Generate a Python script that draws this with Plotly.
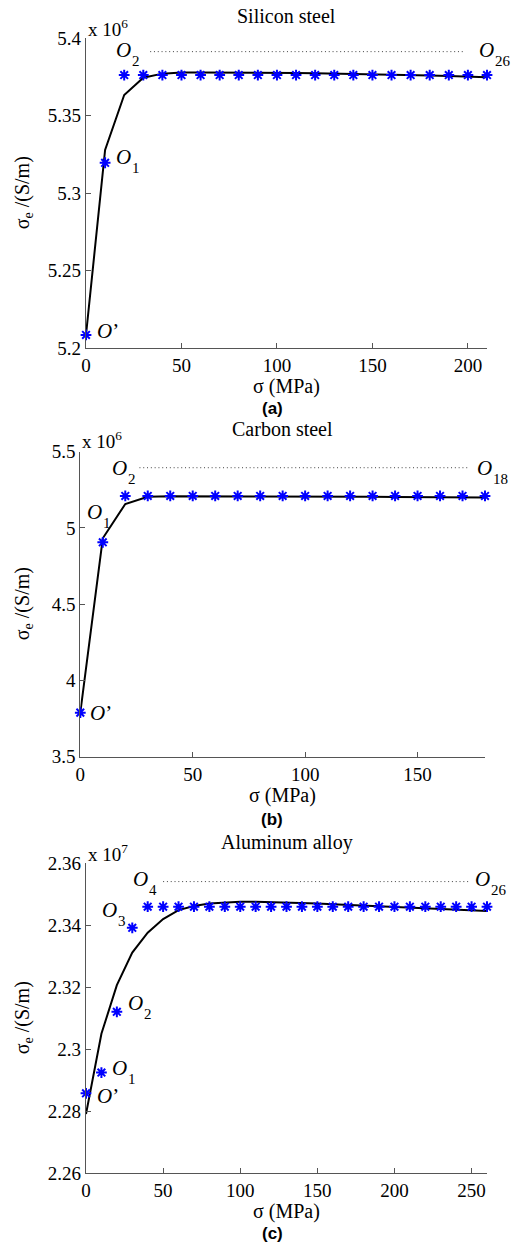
import plotly.graph_objects as go

W, H = 513, 1244

# ---------------- data (y in units of the axis multiplier) ----------------
# (a) Silicon steel, x 10^6 S/m
a_x = [0, 10, 20, 30, 40, 50, 60, 70, 80, 90, 100, 110, 120, 130, 140, 150, 160, 170, 180, 190, 200, 210]
a_fit = [5.2086, 5.3280, 5.3634, 5.3746, 5.3772, 5.3779, 5.3780, 5.3780, 5.3779, 5.3778, 5.3777,
         5.3776, 5.3775, 5.3773, 5.3771, 5.3769, 5.3766, 5.3763, 5.3760, 5.3756, 5.3752, 5.3749]
a_meas = [5.2086, 5.3197] + [5.3763] * 20
a_dot_x = [33.6, 198.0]
a_dot_y = [5.3914, 5.3914]

# (b) Carbon steel, x 10^6 S/m
b_x = [0, 10, 20, 30, 40, 50, 60, 70, 80, 90, 100, 110, 120, 130, 140, 150, 160, 170, 180]
b_fit = [3.789, 4.932, 5.157, 5.205, 5.208, 5.208, 5.208, 5.207, 5.207, 5.206, 5.206,
         5.205, 5.204, 5.204, 5.203, 5.202, 5.202, 5.201, 5.200]
b_meas = [3.789, 4.906] + [5.210] * 17
b_dot_x = [26.3, 172.8]
b_dot_y = [5.395, 5.395]

# (c) Aluminum alloy, x 10^7 S/m
c_x = [0, 10, 20, 30, 40, 50, 60, 70, 80, 90, 100, 110, 120, 130, 140, 150, 160, 170, 180,
       190, 200, 210, 220, 230, 240, 250, 260]
c_fit = [2.2791, 2.3050, 2.3207, 2.3312, 2.3376, 2.3420, 2.3449, 2.3462, 2.3470, 2.3474, 2.3476,
         2.3476, 2.3475, 2.3474, 2.3472, 2.3470, 2.3468, 2.3466, 2.3464, 2.3462, 2.3460,
         2.3458, 2.3455, 2.3453, 2.3451, 2.3448, 2.3446]
c_meas = [2.2858, 2.2925, 2.3121, 2.3392] + [2.3460] * 23
c_dot_x = [50.0, 248.0]
c_dot_y = [2.3541, 2.3541]

titles = ["Silicon steel", "Carbon steel", "Aluminum alloy"]
exponents = ["6", "6", "7"]
panel_tags = ["(a)", "(b)", "(c)"]
x_label = "σ (MPa)"
y_label = "σ<sub>e</sub> /(S/m)"

a_xticks = [0, 50, 100, 150, 200]
b_xticks = [0, 50, 100, 150]
c_xticks = [0, 50, 100, 150, 200, 250]
a_yticks = [5.2, 5.25, 5.3, 5.35, 5.4]
a_ytext = ["5.2", "5.25", "5.3", "5.35", "5.4"]
b_yticks = [3.5, 4.0, 4.5, 5.0, 5.5]
b_ytext = ["3.5", "4", "4.5", "5", "5.5"]
c_yticks = [2.26, 2.28, 2.30, 2.32, 2.34, 2.36]
c_ytext = ["2.26", "2.28", "2.3", "2.32", "2.34", "2.36"]

# point labels: (suffix, x, y, is_subscript) -- x,y = left edge / vertical centre of the "O"
a_labels = [("’", 5.8, 5.2114, False), ("1", 15.7, 5.3234, True), ("2", 15.7, 5.3925, True),
            ("26", 205.7, 5.3925, True)]
b_labels = [("’", 4.3, 3.789, False), ("1", 3.0, 5.107, True), ("2", 14.1, 5.395, True),
            ("18", 176.6, 5.395, True)]
c_labels = [("’", 7.1, 2.2849, False), ("1", 16.9, 2.2941, True), ("2", 27.2, 2.3148, True),
            ("3", 10.4, 2.3449, True), ("4", 30.5, 2.3548, True), ("26", 252.3, 2.3548, True)]

# ---------------- layout geometry (pixels) ----------------
panels = [
    dict(x=a_x, fit=a_fit, meas=a_meas, dx=a_dot_x, dy=a_dot_y, xr=[0, 210], yr=[5.2, 5.4],
         xt=a_xticks, yt=a_yticks, ytt=a_ytext, lab=a_labels,
         px=(86, 487), py=(38.3, 348.3), title_y=16, exp_y=28, xlab_y=386, tag_y=408),
    dict(x=b_x, fit=b_fit, meas=b_meas, dx=b_dot_x, dy=b_dot_y, xr=[0, 180], yr=[3.5, 5.5],
         xt=b_xticks, yt=b_yticks, ytt=b_ytext, lab=b_labels,
         px=(80.3, 485), py=(451.7, 756.7), title_y=429, exp_y=440, xlab_y=795, tag_y=819),
    dict(x=c_x, fit=c_fit, meas=c_meas, dx=c_dot_x, dy=c_dot_y, xr=[0, 260], yr=[2.26, 2.36],
         xt=c_xticks, yt=c_yticks, ytt=c_ytext, lab=c_labels,
         px=(86, 487), py=(863.3, 1173.3), title_y=843, exp_y=853, xlab_y=1211, tag_y=1233),
]

serif = "Liberation Serif"
axis_col = "#555555"

fig = go.Figure()
annotations = []
layout_axes = {}

for i, p in enumerate(panels):
    n = "" if i == 0 else str(i + 1)
    xa, ya = "x" + n, "y" + n
    fig.add_trace(go.Scatter(x=p["dx"], y=p["dy"], mode="lines", xaxis=xa, yaxis=ya,
                             line=dict(color="#444444", width=1, dash="1px,2.8px"), showlegend=False))
    fig.add_trace(go.Scatter(x=p["x"], y=p["fit"], mode="lines", xaxis=xa, yaxis=ya,
                             line=dict(color="black", width=2), showlegend=False, cliponaxis=False))
    fig.add_trace(go.Scatter(x=p["x"], y=p["meas"], mode="markers", xaxis=xa, yaxis=ya,
                             marker=dict(symbol="asterisk-open", size=9, color="#0000ff",
                                         line=dict(color="#0000ff", width=2)),
                             showlegend=False, cliponaxis=False))

    x0, x1 = p["px"]
    y0, y1 = p["py"]
    common = dict(ticks="inside", ticklen=5, tickcolor=axis_col, showline=True, linecolor=axis_col,
                  linewidth=1.2, showgrid=False, zeroline=False, automargin=False,
                  tickfont=dict(family=serif, size=19, color="black"))
    layout_axes["xaxis" + n] = dict(domain=[x0 / W, x1 / W], anchor=ya, range=p["xr"],
                                    tickvals=p["xt"], **common)
    layout_axes["yaxis" + n] = dict(domain=[1 - y1 / H, 1 - y0 / H], anchor=xa, range=p["yr"],
                                    tickvals=p["yt"], ticktext=p["ytt"], **common)
    cx = (x0 + x1) / 2
    annotations.append(dict(text=titles[i], xref="paper", yref="paper", x=cx / W, y=1 - p["title_y"] / H,
                            xanchor="center", yanchor="middle", showarrow=False,
                            font=dict(family=serif, size=20, color="black")))
    annotations.append(dict(text="x 10<sup>" + exponents[i] + "</sup>", xref="paper", yref="paper",
                            x=x0 / W, y=1 - p["exp_y"] / H, xanchor="left", yanchor="middle",
                            showarrow=False, font=dict(family=serif, size=19, color="black")))
    annotations.append(dict(text=x_label, xref="paper", yref="paper", x=cx / W, y=1 - p["xlab_y"] / H,
                            xanchor="center", yanchor="middle", showarrow=False, borderpad=0,
                            font=dict(family=serif, size=20, color="black")))
    annotations.append(dict(text="<b>" + panel_tags[i] + "</b>", xref="paper", yref="paper",
                            x=272 / W, y=1 - p["tag_y"] / H, xanchor="center", yanchor="middle",
                            showarrow=False, borderpad=0,
                            font=dict(family="Liberation Sans", size=17, color="black")))
    annotations.append(dict(text=y_label, xref="paper", yref="paper", x=23 / W,
                            y=1 - (y0 + y1) / 2 / H, xanchor="center", yanchor="middle",
                            textangle=-90, showarrow=False,
                            font=dict(family=serif, size=20, color="black")))
    for (suf, lx, ly, is_sub) in p["lab"]:
        if is_sub:
            annotations.append(dict(text="<i>O</i>", xref=xa, yref=ya, x=lx, y=ly, xanchor="left",
                                    yanchor="middle", showarrow=False, xshift=-2,
                                    font=dict(family=serif, size=21, color="black")))
            annotations.append(dict(text=suf, xref=xa, yref=ya, x=lx, y=ly, xanchor="left",
                                    yanchor="middle", showarrow=False, xshift=14, yshift=-11,
                                    font=dict(family=serif, size=15, color="black")))
        else:
            annotations.append(dict(text="<i>O</i>" + suf, xref=xa, yref=ya, x=lx, y=ly, xanchor="left",
                                    yanchor="middle", showarrow=False, xshift=-2,
                                    font=dict(family=serif, size=21, color="black")))

fig.update_layout(width=W, height=H, margin=dict(l=0, r=0, t=0, b=0, autoexpand=False),
                  autosize=False, plot_bgcolor="white", paper_bgcolor="white",
                  annotations=annotations, **layout_axes)

css_fix = ("document.documentElement.style.margin='0';document.body.style.margin='0';"
           "document.documentElement.style.overflow='hidden';document.body.style.overflow='hidden';"
           "var g=document.getElementById('{plot_id}');g.style.position='fixed';g.style.left='0px';"
           "g.style.top='0px';")

fig.write_html("out.html", config={"displayModeBar": False, "responsive": False},
               post_script=css_fix)
